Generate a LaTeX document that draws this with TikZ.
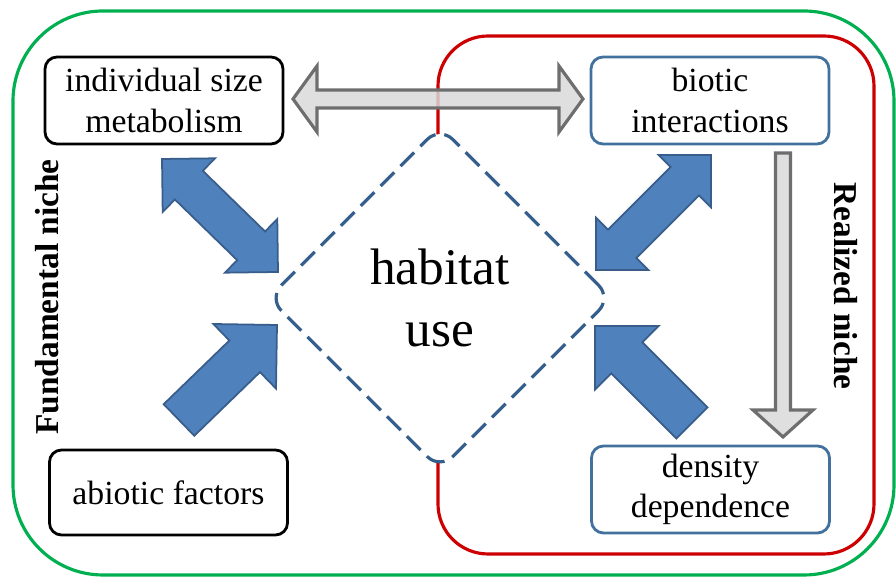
\documentclass[tikz,border=0pt]{standalone}
\usepackage{fontspec}
\setmainfont{Liberation Serif}
\usetikzlibrary{calc,shapes.geometric}
\definecolor{framegreen}{RGB}{0,176,80}
\definecolor{framered}{RGB}{204,0,0}
\definecolor{boxblue}{RGB}{65,113,156}
\definecolor{arrowblue}{RGB}{79,129,189}
\definecolor{arrowedge}{RGB}{56,93,138}
\definecolor{dashblue}{RGB}{52,94,140}
\definecolor{arrowgray}{RGB}{217,217,217}
\definecolor{arrowgrayedge}{RGB}{110,110,110}
% block arrow from tail #2 to tip #3: half shaft, half head, head length
\def\fatarrow[#1](#2)(#3)(#4:#5:#6){%
  \coordinate (hb) at ($(#3)!#6!(#2)$);
  \draw[#1] ($(#2)!#4!90:(#3)$) -- ($(hb)!#4!90:(#3)$) -- ($(hb)!#5!90:(#3)$) -- (#3)
    -- ($(hb)!#5!-90:(#3)$) -- ($(hb)!#4!-90:(#3)$) -- ($(#2)!#4!-90:(#3)$) -- cycle;}
\def\fatdblarrow[#1](#2)(#3)(#4:#5:#6){%
  \coordinate (ha) at ($(#2)!#6!(#3)$);
  \coordinate (hb) at ($(#3)!#6!(#2)$);
  \draw[#1] (#2) -- ($(ha)!#5!90:(#3)$) -- ($(ha)!#4!90:(#3)$) -- ($(hb)!#4!90:(#3)$)
    -- ($(hb)!#5!90:(#3)$) -- (#3) -- ($(hb)!#5!-90:(#3)$) -- ($(hb)!#4!-90:(#3)$)
    -- ($(ha)!#4!-90:(#3)$) -- ($(ha)!#5!-90:(#3)$) -- cycle;}

\begin{document}
\begin{tikzpicture}[x=0.1mm,y=-0.1mm,
  box/.style={draw, line width=0.8pt, rounded corners=1.2mm, minimum width=23.8mm,
    minimum height=8.7mm, align=center, inner sep=0pt,
    font=\fontsize{9.6}{11.4}\selectfont},
  bluebox/.style={box, draw=boxblue},
  bluearrow/.style={fill=arrowblue, draw=arrowedge, line width=0.5pt},
  grayarrow/.style={fill=arrowgray, fill opacity=0.85, draw=arrowgrayedge, line width=0.9pt},
  nichelabel/.style={font=\fontsize{9.5}{11}\selectfont\bfseries}]
		%%%%% START %%%%%
		\useasboundingbox (0,0) rectangle (896,578);
		
		\draw[framegreen, line width=0.9pt, rounded corners=9mm] (13,11) rectangle (894,575);
		\draw[framered, line width=0.9pt, rounded corners=5mm] (438,36) rectangle (874,554);
		
		\node[diamond, draw=dashblue, fill=white, line width=0.9pt, dash pattern=on 5.5pt off 2.5pt,
		  rounded corners=1.8mm, minimum width=34.4mm, minimum height=34.4mm, align=center,
		  font=\fontsize{14.6}{17.4}\selectfont] (habitat) at (440,298) {habitat\\use};
		
		\node[box] (indiv) at (164,100.5) {individual size\\metabolism};
		\node[bluebox] (biotic) at (710,100.5) {biotic\\interactions};
		\node[box, minimum height=8.5mm] (abiotic) at (168.5,492.5) {abiotic factors};
		\node[bluebox] (density) at (710.5,489.5) {density\\dependence};
		
		\node[nichelabel, rotate=90] (fund) at (47,297) {Fundamental niche};
		\node[nichelabel, rotate=-90] (real) at (846,286) {Realized niche};
		
		% gray arrows
		\coordinate (g1) at (293,99);
		\coordinate (g2) at (583,99);
		\fatdblarrow[grayarrow](g1)(g2)(0.9mm:3.3mm:2.4mm)
		\coordinate (g3) at (783,153);
		\coordinate (g4) at (783,437);
		\fatarrow[grayarrow](g3)(g4)(0.75mm:3.0mm:2.7mm)
		
		% blue arrows
		\coordinate (b1) at (162,159);
		\coordinate (b2) at (278,272);
		\fatdblarrow[bluearrow](b1)(b2)(2.0mm:3.75mm:3.75mm)
		\coordinate (b3) at (711,155);
		\coordinate (b4) at (596,270);
		\fatdblarrow[bluearrow](b3)(b4)(2.0mm:3.7mm:3.7mm)
		\coordinate (b5) at (179,420);
		\coordinate (b6) at (277,325);
		\fatarrow[bluearrow](b5)(b6)(2.2mm:4.5mm:4.5mm)
		\coordinate (b7) at (692,423);
		\coordinate (b8) at (595,326);
		\fatarrow[bluearrow](b7)(b8)(2.2mm:4.5mm:4.5mm)
		
		%%%%% END %%%%%
\end{tikzpicture}
\end{document}
